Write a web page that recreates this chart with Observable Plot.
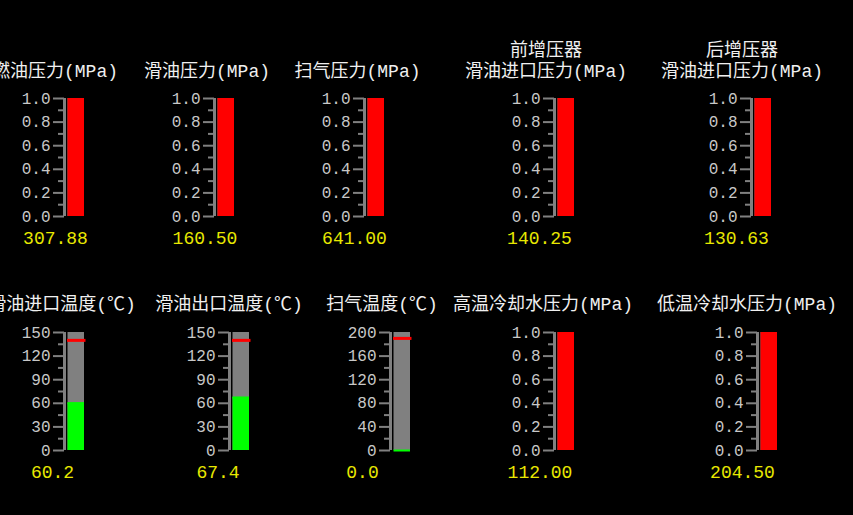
<!DOCTYPE html>
<html><head><meta charset="utf-8">
<script src="https://cdn.jsdelivr.net/npm/d3@7"></script>
<script src="https://cdn.jsdelivr.net/npm/@observablehq/plot@0.6"></script>
<style>
html,body{margin:0;padding:0;background:#000;}
#chart{position:relative;width:853px;height:515px;background:#000;overflow:hidden;}
.title{position:absolute;transform:translate(-50%,-100%);white-space:pre;text-align:center;color:#f0f0f0;font:18px/21px 'Liberation Mono','Noto Sans CJK SC',sans-serif;}
g[aria-label="y-axis tick label"]{font-size:16px;}
</style></head><body><div id="chart"></div>
<script>
// ---- data ----
const names = ["燃油压力(MPa)", "滑油压力(MPa)", "扫气压力(MPa)", "前增压器\n滑油进口压力(MPa)", "后增压器\n滑油进口压力(MPa)",
               "滑油进口温度(℃)", "滑油出口温度(℃)", "扫气温度(℃)", "高温冷却水压力(MPa)", "低温冷却水压力(MPa)"];
const values = [307.88, 160.50, 641.00, 140.25, 130.63, 60.2, 67.4, 0.0, 112.00, 204.50];
const decimals = [2, 2, 2, 2, 2, 1, 1, 1, 2, 2];
const scaleMax = [1, 1, 1, 1, 1, 150, 150, 200, 1, 1];
const alarms = [null, null, null, null, null, 140, 140, 190, null, null];
const majorTicks = {1: [0, 0.2, 0.4, 0.6, 0.8, 1.0], 150: [0, 30, 60, 90, 120, 150], 200: [0, 40, 80, 120, 160, 200]};
const minorTicks = {1: [0.1, 0.3, 0.5, 0.7, 0.9], 150: [15, 45, 75, 105, 135], 200: [20, 60, 100, 140, 180]};
const tickFormats = {1: d3.format(".1f"), 150: d3.format("d"), 200: d3.format("d")};

// ---- layout (page pixels) ----
const axisX  = [63.5, 214, 364, 554, 750.5, 63.5, 228.5, 389.5, 554, 756.5];
const titleX = [55, 207, 357.5, 546, 742, 62, 229, 382, 543, 747];
const valueX = [54.5, 204.5, 354, 539, 735.5, 51.5, 217, 361.5, 539.5, 741.5];
const rowOf  = [0, 0, 0, 0, 0, 1, 1, 1, 1, 1];
const rowFrameTop = [98, 332];
const rowTitleBottom = [83, 316];

const W = 120, ML = 70, MR = 30, MT = 10, FH = 118, MB = 40;
const GRAY = "#808080", RED = "#ff0000", GREEN = "#00ff00", YELLOW = "#e8e800";
const font = "'Liberation Mono','Noto Sans CJK SC',monospace";

const chart = document.getElementById("chart");

names.forEach((name, i) => {
  const max = scaleMax[i];
  const d = {name, value: values[i]};
  const over = values[i] > max;
  const fill = over ? RED : GREEN;
  const marks = [
    Plot.rect([d], {x1: 0, x2: 1, y1: 0, y2: max, insetLeft: 3.5, fill: GRAY}),
    Plot.rect([d], {x1: 0, x2: 1, y1: 0, y2: "value", insetLeft: 3.5, fill}),
  ];
  if (!over) marks.push(Plot.ruleY([d], {y: "value", x1: 0, x2: 1, insetLeft: 3.5, stroke: fill, strokeWidth: 2}));
  if (alarms[i] != null) marks.push(Plot.ruleY([alarms[i]], {x1: 0, x2: 1, insetLeft: 3, insetRight: -1.5, stroke: RED, strokeWidth: 3}));
  marks.push(
    Plot.ruleX([0], {stroke: GRAY, strokeWidth: 3}),
    Plot.axisY(minorTicks[max], {tickSize: 6, tickFormat: () => "", stroke: GRAY, strokeWidth: 2, label: null}),
    Plot.axisY(majorTicks[max], {tickSize: 11, tickPadding: 3, tickFormat: tickFormats[max], stroke: GRAY, strokeWidth: 2,
      fill: "#c8c8c8", fontSize: 16, label: null}),
    Plot.text([d], {text: v => v.value.toFixed(decimals[i]), frameAnchor: "bottom-left", textAnchor: "middle",
      dx: valueX[i] - axisX[i], dy: 22, lineAnchor: "middle", fill: YELLOW, fontSize: 18})
  );
  const svg = Plot.plot({
    width: W, height: MT + FH + MB,
    marginLeft: ML, marginRight: MR, marginTop: MT, marginBottom: MB,
    x: {domain: [0, 1], axis: null},
    y: {domain: [0, max], clamp: true},
    style: {background: "transparent", color: "#c8c8c8", fontFamily: font, fontSize: "15px", overflow: "visible"},
    marks
  });
  svg.style.position = "absolute";
  svg.style.left = (axisX[i] - ML) + "px";
  svg.style.top = (rowFrameTop[rowOf[i]] - MT) + "px";
  svg.style.maxWidth = "none";
  chart.appendChild(svg);

  const t = document.createElement("div");
  t.className = "title";
  t.textContent = name;
  t.style.left = titleX[i] + "px";
  t.style.top = rowTitleBottom[rowOf[i]] + "px";
  chart.appendChild(t);
});
</script></body></html>
